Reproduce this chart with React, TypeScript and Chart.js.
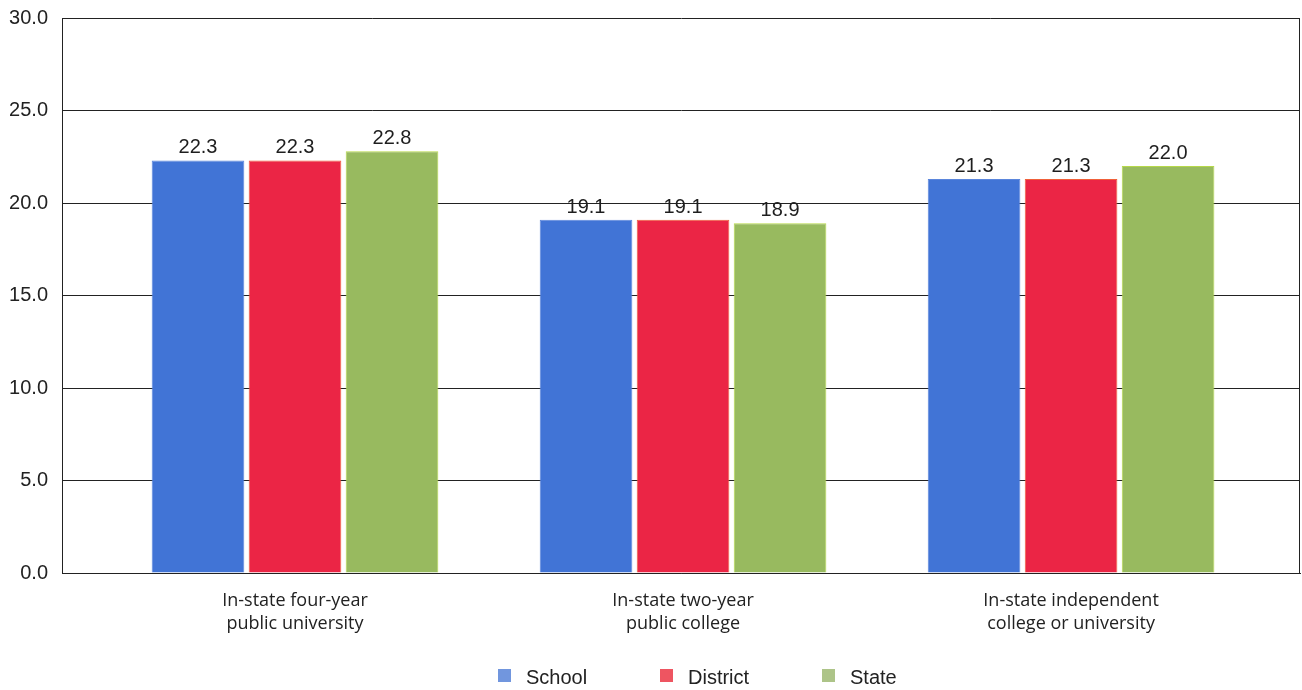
import React, { useEffect, useRef } from "react";
import { Chart, registerables } from "chart.js";

Chart.register(...registerables);

const categories: string[][] = [
  ["In-state four-year", "public university"],
  ["In-state two-year", "public college"],
  ["In-state independent", "college or university"],
];
const seriesNames = ["School", "District", "State"];
const schoolValues = [22.3, 19.1, 21.3];
const districtValues = [22.3, 19.1, 21.3];
const stateValues = [22.8, 18.9, 22.0];
const yTicks = [0, 5, 10, 15, 20, 25, 30];

const barColors = ["#4174d6", "#eb2545", "#98ba5f"];
const borderColors = ["#5b86dc", "#f0603a", "#b6d84a"];
const legendColors = ["#7196de", "#ee5561", "#adc488"];

const frameAndLabels = {
  id: "frameAndLabels",
  afterDatasetsDraw(chart: any) {
    const { ctx, chartArea } = chart;
    ctx.save();
    ctx.font = '20px "Liberation Sans", Arial, sans-serif';
    ctx.fillStyle = "#1e1e1e";
    ctx.textAlign = "center";
    ctx.textBaseline = "alphabetic";
    chart.data.datasets.forEach((ds: any, di: number) => {
      const meta = chart.getDatasetMeta(di);
      meta.data.forEach((el: any, i: number) => {
        const v = ds.data[i].y;
        ctx.fillText(v.toFixed(1), el.x, el.y - 7);
      });
    });
    ctx.strokeStyle = "#222";
    ctx.lineWidth = 1;
    ctx.beginPath();
    ctx.moveTo(Math.round(chartArea.right) - 0.5, chartArea.top);
    ctx.lineTo(Math.round(chartArea.right) - 0.5, chartArea.bottom);
    ctx.stroke();
    ctx.restore();
  },
  afterDraw(chart: any) {
    const { ctx, chartArea } = chart;
    ctx.save();
    const cx = (chartArea.left + chartArea.right) / 2;
    const x0 = cx - 183;
    const y = 677;
    ctx.font = '20px "Liberation Sans", Arial, sans-serif';
    ctx.textBaseline = "middle";
    ctx.textAlign = "left";
    seriesNames.forEach((name, i) => {
      const x = x0 + i * 162;
      ctx.fillStyle = legendColors[i];
      ctx.fillRect(x, y - 8, 13, 13);
      ctx.fillStyle = "#222";
      ctx.fillText(name, x + 28, y + 1);
    });
    ctx.restore();
  },
};

export default function App() {
  const ref = useRef<HTMLCanvasElement>(null);
  useEffect(() => {
    if (!ref.current) return;
    const allSeries = [schoolValues, districtValues, stateValues];
    const chart = new Chart(ref.current, {
      type: "bar",
      data: {
        datasets: allSeries.map((vals, si) => ({
          label: seriesNames[si],
          data: vals.map((v, i) => ({ x: i, y: v })),
          backgroundColor: barColors[si],
          borderColor: borderColors[si],
          borderWidth: 1,
          categoryPercentage: 0.75,
          barPercentage: 0.955,
        })),
      },
      options: {
        responsive: false,
        animation: false,
        layout: { padding: { top: 18, right: 2, left: 0, bottom: 0 } },
        plugins: {
          legend: { display: false },
          tooltip: { enabled: false },
        },
        scales: {
          x: {
            type: "linear",
            offset: false,
            min: -0.6005,
            max: 2.59,
            grid: { display: false, drawTicks: false, offset: false },
            border: { display: true, color: "#222", width: 1 },
            afterBuildTicks: (scale: any) => {
              scale.ticks = categories.map((_, i) => ({ value: i }));
            },
            afterFit: (scale: any) => {
              scale.height = 117;
              scale.paddingTop = 0;
              scale.paddingBottom = 0;
            },
            ticks: {
              padding: 17,
              color: "#222",
              font: { family: '"Open Sans", sans-serif', size: 18, lineHeight: 1.25 },
              maxRotation: 0,
              autoSkip: false,
              callback: (v: any) => categories[v as number] ?? "",
            },
          },
          y: {
            min: 0,
            max: 30,
            afterBuildTicks: (scale: any) => {
              scale.ticks = yTicks.map((v) => ({ value: v }));
            },
            afterFit: (scale: any) => {
              scale.width = 62;
              scale.paddingTop = 0;
              scale.paddingBottom = 0;
            },
            grid: { color: "#222", lineWidth: 1, drawTicks: false },
            border: { display: true, color: "#222", width: 1 },
            ticks: {
              padding: 14,
              color: "#222",
              font: { family: '"Liberation Sans", Arial, sans-serif', size: 20 },
              callback: (v: any) => Number(v).toFixed(1),
            },
          },
        },
      },
      plugins: [frameAndLabels],
    });
    return () => chart.destroy();
  }, []);
  return (
    <div style={{ position: "absolute", left: 0, top: 0, width: 1302, height: 690, background: "#fff" }}>
      <canvas ref={ref} width={1302} height={690} />
    </div>
  );
}
